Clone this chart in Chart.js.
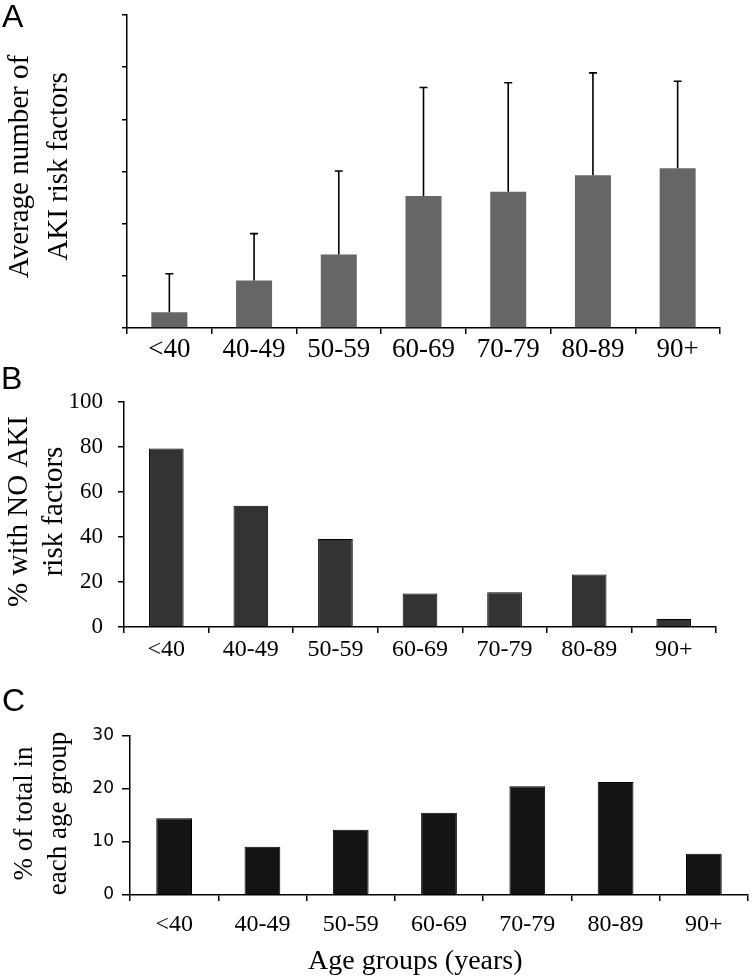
<!DOCTYPE html>
<html>
<head>
<meta charset="utf-8">
<script src="https://cdn.jsdelivr.net/npm/chart.js@4/dist/chart.umd.min.js"></script>
<style>
  body { margin: 0; background: #fff; }
  #wrap { position: relative; width: 752px; height: 979px; }
  canvas { position: absolute; left: 0; }
  .letter { position: absolute; font-family: "Liberation Sans", Arial, sans-serif; font-size: 32px; line-height: 1; color: #000; }
  .xtitle { position: absolute; font-family: "Liberation Serif", "Times New Roman", serif; font-size: 28px; line-height: 1; color: #000; white-space: nowrap; }
</style>
</head>
<body>
<div id="wrap">
  <canvas id="chartA" width="752" height="370" style="top:0"></canvas>
  <canvas id="chartB" width="752" height="290" style="top:370px"></canvas>
  <canvas id="chartC" width="752" height="319" style="top:660px"></canvas>
  <div class="letter" style="left:2px;top:0px">A</div>
  <div class="letter" style="left:1px;top:362px">B</div>
  <div class="letter" style="left:2px;top:684px">C</div>
  <div class="xtitle" style="left:308px;top:946px">Age groups (years)</div>
</div>
<script>
const ageGroups = ["<40", "40-49", "50-59", "60-69", "70-79", "80-89", "90+"];

// panel A: mean number of AKI risk factors, with SD (upper bar only)
const meanRiskFactors = [0.30, 0.91, 1.41, 2.53, 2.61, 2.93, 3.06];
const sdRiskFactors = [0.74, 0.90, 1.60, 2.08, 2.09, 1.96, 1.67];

// panel B: % with no AKI risk factors
const pctNoRiskFactors = [79.3, 53.9, 39.1, 14.9, 15.5, 23.3, 3.6];

// panel C: % of total in each age group
const pctOfTotal = [14.5, 9.1, 12.3, 15.5, 20.5, 21.3, 7.8];

const serif = "'Liberation Serif', 'Times New Roman', serif";

// draws the upper half of the SD bars on top of panel A
const errorBars = {
  id: "errorBars",
  afterDatasetsDraw(chart) {
    const ctx = chart.ctx;
    const yScale = chart.scales.y;
    const bars = chart.getDatasetMeta(0).data;
    ctx.save();
    ctx.strokeStyle = "#000";
    ctx.lineWidth = 1.6;
    bars.forEach((bar, i) => {
      const top = yScale.getPixelForValue(meanRiskFactors[i] + sdRiskFactors[i]);
      ctx.beginPath();
      ctx.moveTo(bar.x, bar.y);
      ctx.lineTo(bar.x, top);
      ctx.moveTo(bar.x - 4, top);
      ctx.lineTo(bar.x + 4, top);
      ctx.stroke();
    });
    ctx.restore();
  },
};

// two-line rotated y title, baselines given as x positions
function sideTitle(lines, size, baselines, shift) {
  return {
    id: "sideTitle",
    afterDraw(chart) {
      const ctx = chart.ctx;
      const area = chart.chartArea;
      const cy = (area.top + area.bottom) / 2 + shift;
      ctx.save();
      ctx.font = size + "px " + serif;
      ctx.fillStyle = "#000";
      ctx.textAlign = "center";
      ctx.textBaseline = "alphabetic";
      lines.forEach((line, i) => {
        ctx.save();
        ctx.translate(baselines[i], cy);
        ctx.rotate(-Math.PI / 2);
        ctx.fillText(line, 0, 0);
        ctx.restore();
      });
      ctx.restore();
    },
  };
}

function axisGrid(len) {
  return { display: true, drawOnChartArea: false, drawTicks: true, tickLength: len, color: "#000", lineWidth: 1.5 };
}

function makeChart(id, opts) {
  return new Chart(document.getElementById(id), {
    type: "bar",
    data: {
      labels: ageGroups,
      datasets: [{
        data: opts.values,
        backgroundColor: opts.fill,
        borderColor: "#000",
        borderWidth: opts.border,
        barPercentage: opts.barPct,
        categoryPercentage: 1,
      }],
    },
    options: {
      responsive: false,
      animation: false,
      devicePixelRatio: 1,
      layout: { padding: { top: opts.padTop, right: opts.padRight, left: 0, bottom: 0 } },
      plugins: { legend: { display: false }, tooltip: { enabled: false } },
      scales: {
        x: {
          grid: axisGrid(6),
          border: { display: true, color: "#000", width: 1.5 },
          ticks: { color: "#000", font: { family: serif, size: opts.xFont }, padding: opts.xPad, maxRotation: 0 },
          afterFit: (s) => { s.height = opts.xHeight; },
        },
        y: {
          min: opts.yMin,
          max: opts.yMax,
          grid: axisGrid(opts.yTick),
          border: { display: true, color: "#000", width: 1.5 },
          ticks: {
            display: opts.yLabels,
            stepSize: opts.yStep,
            color: "#000",
            padding: opts.yPad,
            font: opts.yFont,
          },
          afterFit: (s) => { s.width = opts.yWidth; },
        },
      },
    },
    plugins: opts.plugins,
  });
}

makeChart("chartA", {
  values: meanRiskFactors, fill: "#666666", border: 0, barPct: 0.425,
  padTop: 15, padRight: 32, xHeight: 42, yWidth: 127,
  xFont: 27, xPad: 0,
  yMin: 0, yMax: 6, yStep: 1, yLabels: false, yTick: 5, yPad: 4,
  yFont: { family: serif, size: 22 },
  plugins: [errorBars, sideTitle(["Average number of", "AKI risk factors"], 29, [28, 67], -5)],
});

makeChart("chartB", {
  values: pctNoRiskFactors, fill: "#333333", border: 1, barPct: 0.41,
  padTop: 32, padRight: 36, xHeight: 33, yWidth: 124,
  xFont: 24, xPad: 2,
  yMin: 0, yMax: 100, yStep: 20, yLabels: true, yTick: 6, yPad: 15,
  yFont: { family: serif, size: 23 },
  plugins: [sideTitle(["% with NO AKI", "risk factors"], 29, [27, 62], -3)],
});

makeChart("chartC", {
  values: pctOfTotal, fill: "#141414", border: 1, barPct: 0.405,
  padTop: 76, padRight: 4, xHeight: 84, yWidth: 130,
  xFont: 24, xPad: 9,
  yMin: 0, yMax: 30, yStep: 10, yLabels: true, yTick: 8, yPad: 8,
  yFont: { family: "'DejaVu Sans', Verdana, sans-serif", size: 17 },
  plugins: [sideTitle(["% of total in", "each age group"], 27, [32, 66], -2)],
});
</script>
</body>
</html>
